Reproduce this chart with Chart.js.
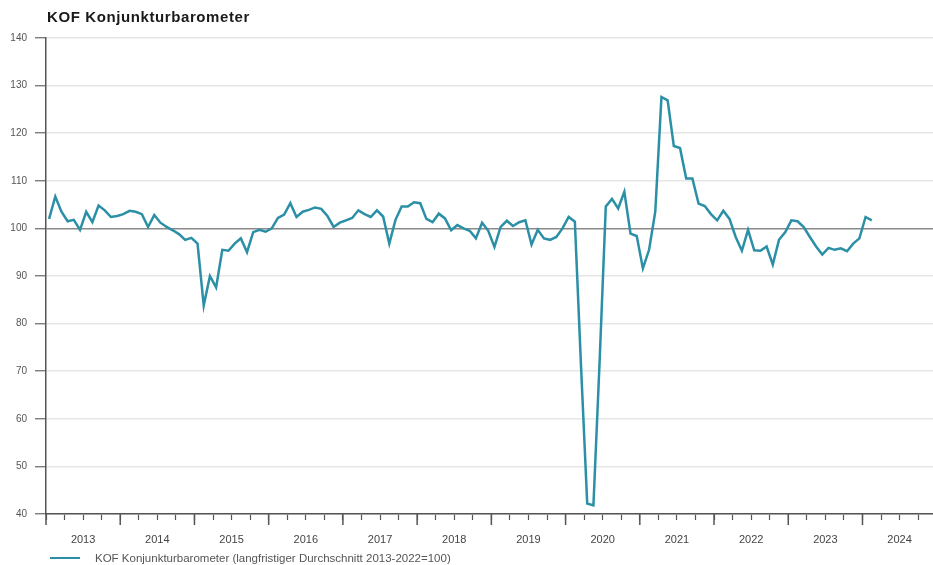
<!DOCTYPE html>
<html lang="de">
<head>
<meta charset="utf-8">
<title>KOF Konjunkturbarometer</title>
<script src="https://cdn.jsdelivr.net/npm/chart.js@4.4.1/dist/chart.umd.min.js"></script>
<style>
  html, body { margin: 0; padding: 0; background: #fff; }
  #wrap { position: relative; width: 933px; height: 565px; font-family: "Liberation Sans", Arial, sans-serif; }
  #titel { position: absolute; left: 47px; top: 8px; font-size: 15px; font-weight: bold; color: #1a1a1a; letter-spacing: 0.6px; }
  #legende { position: absolute; left: 50px; top: 552px; font-size: 11.5px; color: #555; display: flex; align-items: center; }
  #legende .linie { display: inline-block; width: 30px; height: 2.5px; background: #2b8fa6; margin-right: 15px; }
</style>
</head>
<body>
<div id="wrap">
  <canvas id="kofChart" width="933" height="565"></canvas>
  <div id="titel">KOF Konjunkturbarometer</div>
  <div id="legende"><span class="linie"></span>KOF Konjunkturbarometer (langfristiger Durchschnitt 2013-2022=100)</div>
</div>
<script>
// Monatswerte, Januar 2013 bis Februar 2024
const startJahr = 2013;
const werte2013 = [102.0, 106.7, 103.5, 101.5, 101.8, 99.7, 103.5, 101.3, 104.8, 103.8, 102.4, 102.6];
const werte2014 = [103.0, 103.7, 103.5, 103.0, 100.3, 102.8, 101.2, 100.3, 99.6, 98.8, 97.6, 98.0];
const werte2015 = [96.8, 83.8, 90.0, 87.6, 95.5, 95.3, 96.8, 97.9, 95.0, 99.2, 99.7, 99.3];
const werte2016 = [100.0, 102.2, 102.9, 105.3, 102.4, 103.5, 103.9, 104.4, 104.1, 102.6, 100.3, 101.2];
const werte2017 = [101.7, 102.2, 103.8, 103.0, 102.4, 103.8, 102.5, 96.8, 101.8, 104.6, 104.6, 105.5];
const werte2018 = [105.3, 102.0, 101.3, 103.1, 102.1, 99.6, 100.7, 100.0, 99.5, 97.9, 101.2, 99.5];
const werte2019 = [96.1, 100.3, 101.6, 100.5, 101.3, 101.7, 96.6, 99.7, 97.9, 97.6, 98.2, 100.0];
const werte2020 = [102.4, 101.4, 71.0, 42.2, 41.8, 72.0, 104.6, 106.2, 104.2, 107.7, 98.9, 98.4];
const werte2021 = [91.6, 95.5, 103.5, 127.6, 126.9, 117.3, 116.9, 110.5, 110.5, 105.2, 104.7, 103.0];
const werte2022 = [101.7, 103.7, 102.0, 98.2, 95.3, 99.7, 95.4, 95.3, 96.2, 92.4, 97.6, 99.2];
const werte2023 = [101.7, 101.5, 100.3, 98.2, 96.2, 94.5, 95.9, 95.5, 95.8, 95.2, 96.8, 97.9];
const werte2024 = [102.4, 101.7];

const jahre = [2013, 2014, 2015, 2016, 2017, 2018, 2019, 2020, 2021, 2022, 2023, 2024];
const yTicks = [40, 50, 60, 70, 80, 90, 100, 110, 120, 130, 140];

const kofWerte = [].concat(werte2013, werte2014, werte2015, werte2016, werte2017, werte2018,
  werte2019, werte2020, werte2021, werte2022, werte2023, werte2024);
// jeder Wert in der Monatsmitte
const punkte = kofWerte.map((v, i) => ({ x: startJahr + (i + 0.5) / 12, y: v }));

Chart.defaults.font.family = '"Liberation Sans", Arial, sans-serif';

// lange Striche an den Jahresgrenzen
const jahresStriche = {
  id: 'jahresStriche',
  afterDraw(chart) {
    const { ctx, scales: { x } } = chart;
    ctx.save();
    ctx.strokeStyle = '#555';
    ctx.lineWidth = 1.5;
    jahre.forEach(j => {
      const px = x.getPixelForValue(j);
      ctx.beginPath();
      ctx.moveTo(px, x.top);
      ctx.lineTo(px, x.top + 11);
      ctx.stroke();
    });
    ctx.restore();
  }
};

new Chart(document.getElementById('kofChart'), {
  type: 'line',
  data: {
    datasets: [{
      label: 'KOF Konjunkturbarometer (langfristiger Durchschnitt 2013-2022=100)',
      data: punkte,
      borderColor: '#2b8fa6',
      borderWidth: 2.5,
      pointRadius: 0,
      tension: 0,
      fill: false
    }]
  },
  options: {
    responsive: false,
    animation: false,
    devicePixelRatio: 1,
    layout: { padding: { top: 38, bottom: 17, left: 0, right: 0 } },
    plugins: {
      legend: { display: false },
      title: { display: false },
      tooltip: { enabled: false }
    },
    scales: {
      x: {
        type: 'linear',
        min: 2013,
        max: 2024.95,
        afterBuildTicks: s => {
          s.ticks = [];
          jahre.forEach(j => [0, 0.25, 0.5, 0.75].forEach(q => s.ticks.push({ value: j + q })));
        },
        afterFit: s => { s.height = 34; },
        grid: { drawOnChartArea: false, drawTicks: true, tickLength: 6, tickColor: '#555', tickWidth: 1.2 },
        border: { color: '#555', width: 1.5 },
        ticks: {
          autoSkip: false,
          maxRotation: 0,
          padding: 13,
          color: '#444',
          font: { size: 11 },
          callback: v => (v % 1 === 0.5 ? String(Math.floor(v)) : '')
        }
      },
      y: {
        min: 40,
        max: 140,
        afterBuildTicks: s => { s.ticks = yTicks.map(v => ({ value: v })); },
        afterFit: s => { s.width = 46; },
        grid: {
          color: c => (c.tick && c.tick.value === 100 ? '#8a8a8a' : '#e6e6e6'),
          lineWidth: 1.5,
          drawTicks: true,
          tickLength: 11,
          tickColor: '#666',
          tickWidth: 1.2
        },
        border: { color: '#555', width: 1.5 },
        ticks: { padding: 8, color: '#555', font: { size: 10 } }
      }
    }
  },
  plugins: [jahresStriche]
});
</script>
</body>
</html>
